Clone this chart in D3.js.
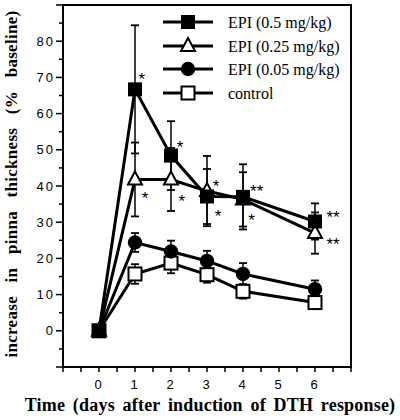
<!DOCTYPE html>
<html><head><meta charset="utf-8">
<script src="https://cdn.jsdelivr.net/npm/d3@7"></script>
<style>body{margin:0;background:#fff}svg{display:block}</style>
</head><body>
<svg id="c" width="400" height="420"></svg>
<script>
const days = [0, 1, 2, 3, 4, 6];
const epi05 = [0, 66.7, 48.4, 37.1, 37.0, 30.2];
const epi05Err = [0, 17.7, 9.5, 7.6, 9.0, 5.0];
const epi025 = [0, 41.8, 41.8, 38.6, 36.3, 27.0];
const epi025Err = [0, 10.2, 8.7, 9.7, 7.5, 5.7];
const epi005 = [0, 24.4, 21.9, 19.3, 15.7, 11.5];
const epi005Err = [0, 2.6, 3.0, 2.8, 3.0, 2.4];
const control = [0, 15.7, 18.7, 15.5, 10.9, 7.8];
const controlErr = [0, 2.7, 2.8, 2.2, 2.0, 1.5];
const seriesNames = ["EPI (0.5 mg/kg)", "EPI (0.25 mg/kg)", "EPI (0.05 mg/kg)", "control"];
const xTickLabels = [0, 1, 2, 3, 4, 5, 6];
const yTickLabels = [0, 10, 20, 30, 40, 50, 60, 70, 80];
// significance marks: [day, value, text]
const sigDay = [1.19, 1.28, 2.25, 2.30, 3.25, 3.31, 4.38, 4.24, 6.5, 6.5];
const sigValue = [70.7, 37.8, 52.0, 36.9, 41.2, 33.0, 39.7, 31.8, 32.5, 25.1];
const sigText = ["*", "*", "*", "*", "*", "*", "**", "*", "**", "**"];

const series = [
  {name: seriesNames[0], vals: epi05, err: epi05Err, shape: "fsquare"},
  {name: seriesNames[1], vals: epi025, err: epi025Err, shape: "otri"},
  {name: seriesNames[2], vals: epi005, err: epi005Err, shape: "fcircle"},
  {name: seriesNames[3], vals: control, err: controlErr, shape: "osquare"}
];

const svg = d3.select("#c");
const L = 63, R = 351, T = 5, B = 367;
const x = d3.scaleLinear().domain([-1, 7]).range([L, R]);
const y = d3.scaleLinear().domain([-10, 90]).range([B, T]);

svg.append("rect").attr("x", L).attr("y", T).attr("width", R - L).attr("height", B - T)
  .attr("fill", "none").attr("stroke", "#000").attr("stroke-width", 2);

const yAxis = svg.append("g");
d3.range(-10, 91, 5).forEach(v => {
  const major = v % 10 === 0;
  yAxis.append("line").attr("x1", L - (major ? 7 : 4)).attr("x2", L)
    .attr("y1", y(v)).attr("y2", y(v)).attr("stroke", "#000").attr("stroke-width", 1.5);
});
yTickLabels.forEach(v => {
  yAxis.append("text").attr("x", 55).attr("y", y(v)).attr("dy", "0.36em")
    .attr("text-anchor", "end").attr("font-family", "Liberation Sans, Arial, sans-serif")
    .attr("font-size", 13).attr("letter-spacing", "2px").text(v);
});
const xAxis = svg.append("g");
d3.range(-1, 7.01, 0.5).forEach(v => {
  xAxis.append("line").attr("x1", x(v)).attr("x2", x(v))
    .attr("y1", B).attr("y2", B + 5).attr("stroke", "#000").attr("stroke-width", 1.5);
});
xTickLabels.forEach(v => {
  xAxis.append("text").attr("x", x(v) - 1).attr("y", 388.5)
    .attr("text-anchor", "middle").attr("font-family", "Liberation Sans, Arial, sans-serif")
    .attr("font-size", 13).text(v);
});

svg.append("text").attr("x", 210).attr("y", 411).attr("text-anchor", "middle")
  .attr("font-family", "Liberation Serif, Times New Roman, serif").attr("font-weight", "bold")
  .attr("font-size", 18).attr("word-spacing", "3px").attr("letter-spacing", "0.2px")
  .text("Time (days after induction of DTH response)");
svg.append("text").attr("transform", "translate(17,184) rotate(-90)").attr("text-anchor", "middle")
  .attr("font-family", "Liberation Serif, Times New Roman, serif").attr("font-weight", "bold")
  .attr("font-size", 17).attr("word-spacing", "9px").attr("letter-spacing", "0.3px")
  .text("increase in pinna thickness (% baseline)");

function marker(g, shape, cx, cy) {
  if (shape === "fsquare") {
    g.append("rect").attr("x", cx - 7).attr("y", cy - 7).attr("width", 14).attr("height", 14).attr("fill", "#000");
  } else if (shape === "osquare") {
    g.append("rect").attr("x", cx - 6.5).attr("y", cy - 6.5).attr("width", 13).attr("height", 13)
      .attr("fill", "#fff").attr("stroke", "#000").attr("stroke-width", 2);
  } else if (shape === "fcircle") {
    g.append("circle").attr("cx", cx).attr("cy", cy).attr("r", 7.2).attr("fill", "#000");
  } else if (shape === "otri") {
    g.append("path").attr("d", `M${cx},${cy - 8}L${cx + 7},${cy + 5}L${cx - 7},${cy + 5}Z`)
      .attr("fill", "#fff").attr("stroke", "#000").attr("stroke-width", 2).attr("stroke-linejoin", "miter");
  }
}

const line = d3.line().x(d => x(d[0])).y(d => y(d[1]));
const plot = svg.append("g");
series.slice().reverse().forEach(s => {
  plot.append("path").datum(days.map((d, i) => [d, s.vals[i]])).attr("d", line)
    .attr("fill", "none").attr("stroke", "#000").attr("stroke-width", 3);
});
series.forEach(s => {
  days.forEach((d, i) => {
    if (!s.err[i]) return;
    const cx = x(d), y1 = y(s.vals[i] + s.err[i]), y2 = y(s.vals[i] - s.err[i]);
    plot.append("line").attr("x1", cx).attr("x2", cx).attr("y1", y1).attr("y2", y2)
      .attr("stroke", "#000").attr("stroke-width", 1.5);
    [y1, y2].forEach(yy => plot.append("line").attr("x1", cx - 4).attr("x2", cx + 4)
      .attr("y1", yy).attr("y2", yy).attr("stroke", "#000").attr("stroke-width", 1.8));
  });
});
series.slice().reverse().forEach(s => {
  days.forEach((d, i) => marker(plot, s.shape, x(d), y(s.vals[i])));
});

sigText.forEach((t, i) => {
  svg.append("text").attr("x", x(sigDay[i])).attr("y", y(sigValue[i])).attr("dy", "0.6em")
    .attr("text-anchor", "middle").attr("font-family", "Liberation Sans, Arial, sans-serif")
    .attr("font-size", 17).text(t);
});

const legRows = [22, 46, 69, 93];
series.forEach((s, i) => {
  const g = svg.append("g");
  g.append("line").attr("x1", 163).attr("x2", 213).attr("y1", legRows[i]).attr("y2", legRows[i])
    .attr("stroke", "#000").attr("stroke-width", 3);
  marker(g, s.shape, 188, legRows[i]);
  g.append("text").attr("x", 228).attr("y", legRows[i] + 5.5)
    .attr("font-family", "Liberation Serif, Times New Roman, serif").attr("font-size", 16).text(s.name);
});
</script>
</body></html>
